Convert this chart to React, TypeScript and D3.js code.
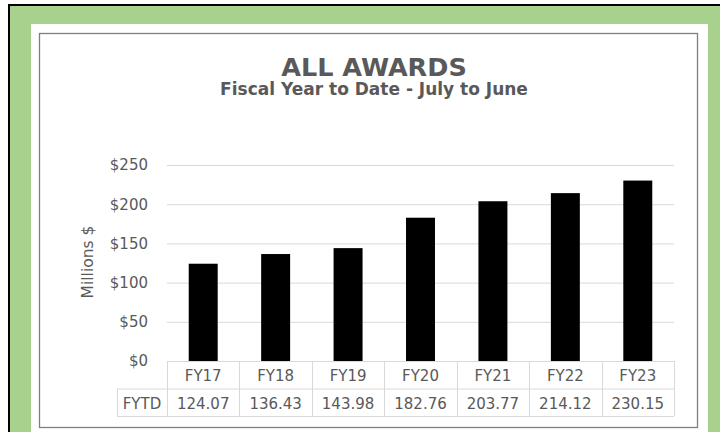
import React from "react";
import * as d3 from "d3";

const categories = ["FY17", "FY18", "FY19", "FY20", "FY21", "FY22", "FY23"];
const values = [124.07, 136.43, 143.98, 182.76, 203.77, 214.12, 230.15];
const yTicks = [0, 50, 100, 150, 200, 250];
const title = "ALL AWARDS";
const subtitle = "Fiscal Year to Date - July to June";
const yLabel = "Millions $";
const rowLabel = "FYTD";

const FONT = "'DejaVu Sans', sans-serif";
const TXT = "#595959";
const GRID = "#d9d9d9";

export default function App() {
  const x = d3.scaleBand<string>().domain(categories).range([167, 674]).padding(0);
  const y = d3.scaleLinear().domain([0, 250]).range([361, 165]);
  const bw = x.bandwidth();
  const barW = bw * 0.4;
  const tableTop = y(0);
  const rowH = 27.5;
  const fmt = d3.format(".2f");

  return (
    <svg
      width={720}
      height={432}
      style={{ position: "absolute", left: 0, top: 0, display: "block" }}
      fontFamily={FONT}
    >
      <rect x={0} y={0} width={720} height={432} fill="#ffffff" />
      <rect x={10} y={6} width={710} height={426} fill="#a9d18e" />
      <rect x={8} y={4} width={2} height={428} fill="#000" />
      <rect x={8} y={4} width={712} height={2} fill="#000" />
      <rect x={31} y={24} width={677} height={408} fill="#ffffff" />
      <rect x={39.5} y={33.5} width={658} height={394} fill="#fff" stroke="#7f7f7f" strokeWidth={1.3} />

      <text x={374} y={76} textAnchor="middle" fontSize={25.5} fontWeight={700} fill={TXT}>
        {title}
      </text>
      <text x={374} y={95} textAnchor="middle" fontSize={17} fontWeight={700} fill={TXT}>
        {subtitle}
      </text>

      {yTicks.map((t) => (
        <g key={t}>
          {t > 0 && (
            <line x1={167} x2={674} y1={y(t) + 0.5} y2={y(t) + 0.5} stroke={GRID} strokeWidth={1} />
          )}
          <text x={148} y={y(t)} dy="0.36em" textAnchor="end" fontSize={15} fill={TXT}>
            {"$" + t}
          </text>
        </g>
      ))}

      <text
        transform={`translate(93,${262}) rotate(-90)`}
        textAnchor="middle"
        fontSize={15.5}
        fill={TXT}
      >
        {yLabel}
      </text>

      {categories.map((c, i) => (
        <rect
          key={c}
          x={(x(c) as number) + (bw - barW) / 2}
          y={y(values[i])}
          width={barW}
          height={y(0) - y(values[i])}
          fill="#000"
        />
      ))}

      {/* data table */}
      <g stroke={GRID} strokeWidth={1} fill="none">
        <line x1={167} x2={674} y1={tableTop + 0.5} y2={tableTop + 0.5} />
        <line x1={117} x2={674} y1={tableTop + rowH + 0.5} y2={tableTop + rowH + 0.5} />
        <line x1={117} x2={674} y1={tableTop + 2 * rowH + 0.5} y2={tableTop + 2 * rowH + 0.5} />
        <line x1={117.5} x2={117.5} y1={tableTop + rowH} y2={tableTop + 2 * rowH} />
        {categories.map((c) => (
          <line
            key={c}
            x1={Math.round(x(c) as number) + 0.5}
            x2={Math.round(x(c) as number) + 0.5}
            y1={tableTop}
            y2={tableTop + 2 * rowH}
          />
        ))}
        <line x1={674.5} x2={674.5} y1={tableTop} y2={tableTop + 2 * rowH} />
      </g>
      {categories.map((c, i) => (
        <g key={c} fontSize={15} fill={TXT} textAnchor="middle">
          <text x={(x(c) as number) + bw / 2} y={tableTop + 20}>
            {c}
          </text>
          <text x={(x(c) as number) + bw / 2} y={tableTop + rowH + 20}>
            {fmt(values[i])}
          </text>
        </g>
      ))}
      <text x={142} y={tableTop + rowH + 20} textAnchor="middle" fontSize={15} fill={TXT}>
        {rowLabel}
      </text>
    </svg>
  );
}
